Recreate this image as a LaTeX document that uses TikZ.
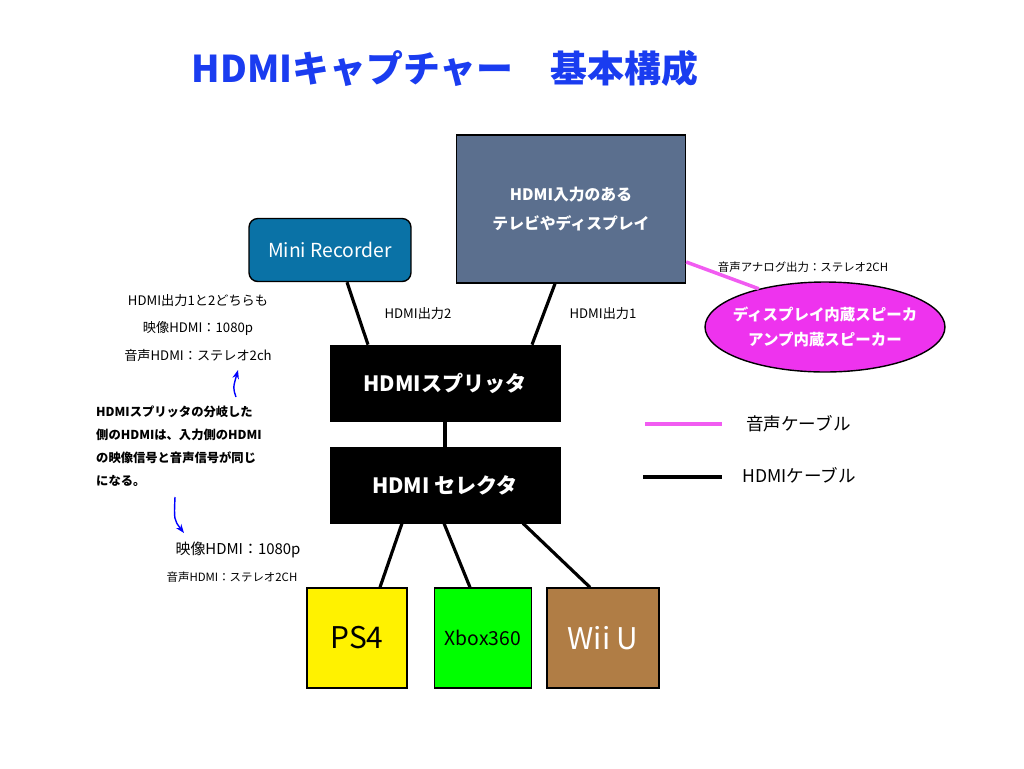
\documentclass[tikz,border=0pt]{standalone}
\usepackage{fontspec}
\setmainfont{Noto Sans CJK JP}
\usetikzlibrary{positioning, shapes.geometric, arrows.meta, calc}
\definecolor{tvblue}{HTML}{5B6F8E}
\definecolor{recblue}{HTML}{0A72A6}
\definecolor{spkpink}{HTML}{EE33EE}
\definecolor{wiibrown}{HTML}{B07D45}
\definecolor{titleblue}{HTML}{1A3CF0}
\tikzset{
    darkbox/.style={draw=black, fill=black, text=white, font=\fontsize{12}{14}\selectfont\bfseries,
        minimum width=4.6cm, minimum height=1.52cm},
    gamebox/.style={draw=black, thick, minimum height=2cm, font=\fontsize{17}{20}\selectfont},
    hdmiline/.style={line width=1.8pt, black},
    audioline/.style={line width=2pt, spkpink!80},
    smalltext/.style={font=\fontsize{7.5}{9}\selectfont, align=center},
    notetext/.style={font=\fontsize{7}{13}\selectfont\bfseries, align=left, anchor=north west}
}
\begin{document}
\begin{tikzpicture}[x=0.02cm, y=-0.02cm]
    \useasboundingbox (0,0) rectangle (1024,768);

    % title
    \node[text=titleblue, font=\fontsize{21}{24}\selectfont\bfseries] (title) at (445,68) {HDMIキャプチャー　基本構成};

    % sources and sinks
    \node[draw=black, thick, fill=tvblue, text=white, minimum width=4.58cm, minimum height=2.96cm,
        font=\fontsize{9}{16}\selectfont\bfseries, align=center] (tv) at (571,209) {HDMI入力のある\\テレビやディスプレイ};
    \node[draw=black, thick, fill=recblue, text=white, rounded corners=5pt, minimum width=3.24cm,
        minimum height=1.26cm, font=\fontsize{11}{13}\selectfont] (rec) at (330,250) {Mini Recorder};
    \node[ellipse, draw=black, thick, fill=spkpink, minimum width=4.8cm, minimum height=1.8cm,
        inner sep=0pt] (spk) at (825,327) {};
    \node[text=white, font=\fontsize{8.8}{14}\selectfont\bfseries, align=center] (spktext) at (spk.center) {ディスプレイ内蔵スピーカ\\アンプ内蔵スピーカー};

    % splitter / selector
    \node[darkbox] (split) at (445,383) {HDMIスプリッタ};
    \node[darkbox] (sel) at (445,485) {HDMI セレクタ};

    % consoles
    \node[gamebox, fill=yellow, minimum width=2cm] (ps4) at (357,638) {PS4};
    \node[gamebox, fill=green, minimum width=1.94cm, font=\fontsize{11}{13}\selectfont] (xbox) at (483,638) {Xbox360};
    \node[gamebox, fill=wiibrown, text=white, minimum width=2.24cm] (wii) at (603,638) {Wii U};

    % cables
    \draw[hdmiline] ($(rec.south)+(17,0)$) -- ($(split.north)+(-77,0)$);
    \draw[hdmiline] ($(tv.south)+(-16,0)$) -- ($(split.north)+(87,0)$);
    \draw[hdmiline] (split) -- (sel);
    \draw[hdmiline] ($(sel.south)+(-43,0)$) -- ($(ps4.north)+(23,0)$);
    \draw[hdmiline] ($(sel.south)+(-1,0)$) -- ($(xbox.north)+(-13,0)$);
    \draw[hdmiline] ($(sel.south)+(78,0)$) -- ($(wii.north)+(-13,0)$);
    \draw[audioline] ($(tv.east)+(0,53)$) -- (spk.150);

    % cable labels
    \node[smalltext] (out2) at (418,314) {HDMI出力2};
    \node[smalltext] (out1) at (603,314) {HDMI出力1};
    \node[smalltext, font=\fontsize{6.5}{8}\selectfont] (analog) at (803,267) {音声アナログ出力：ステレオ2CH};

    % legend
    \coordinate (la1) at (645,424);
    \coordinate (la2) at (722,424);
    \coordinate (lh1) at (643,477);
    \coordinate (lh2) at (722,477);
    \draw[audioline] (la1) -- (la2);
    \draw[hdmiline] (lh1) -- (lh2);
    \node[font=\fontsize{10}{12}\selectfont, anchor=west] (legaudio) at (740,424) {音声ケーブル};
    \node[font=\fontsize{10}{12}\selectfont, anchor=west] (leghdmi) at (736,475) {HDMIケーブル};

    % notes on the left
    \node[smalltext, font=\fontsize{7.5}{15.5}\selectfont] (outnote) at (198,328) {HDMI出力1と2どちらも\\映像HDMI：1080p\\音声HDMI：ステレオ2ch};
    \node[notetext] (branch) at (90,400) {HDMIスプリッタの分岐した\\側のHDMIは、入力側のHDMI\\の映像信号と音声信号が同じ\\になる。};
    \node[font=\fontsize{8.5}{10}\selectfont] (invideo) at (238,550) {映像HDMI：1080p};
    \node[smalltext, font=\fontsize{6.5}{8}\selectfont] (inaudio) at (232,577) {音声HDMI：ステレオ2CH};

    % blue arrows
    \coordinate (au1) at (236,397);
    \coordinate (au2) at (238,370);
    \coordinate (ad1) at (175,497);
    \coordinate (ad2) at (184,533);
    \draw[blue, thick, -{Stealth[length=5pt]}] (au1) .. controls (233,388) .. (au2);
    \draw[blue, thick, -{Stealth[length=5pt]}] (ad1) .. controls (174,520) .. (ad2);
\end{tikzpicture}
\end{document}
